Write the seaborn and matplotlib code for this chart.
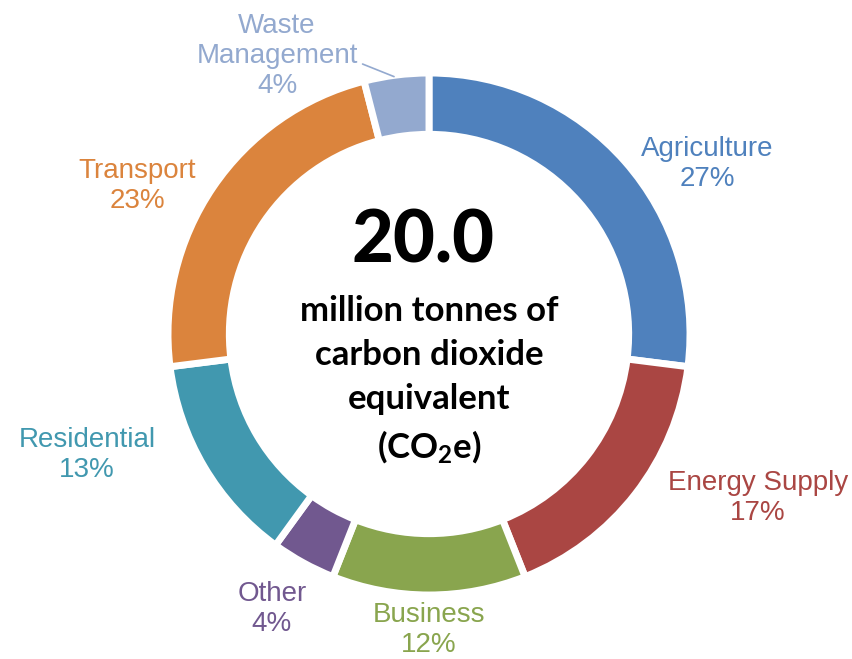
import numpy as np
import matplotlib.pyplot as plt
import seaborn as sns

sns.set_theme(style="white")
plt.rcParams["font.family"] = ["Liberation Sans", "DejaVu Sans"]
plt.rcParams["mathtext.default"] = "regular"

# Datos
sectors = ["Agriculture", "Energy Supply", "Business", "Other",
           "Residential", "Transport", "Waste Management"]
shares = [27, 17, 12, 4, 13, 23, 4]
colors = ["#4F81BD", "#AA4643", "#89A54E", "#71588F",
          "#4198AF", "#DB843D", "#93A9CF"]
label_text = ["Agriculture", "Energy Supply", "Business", "Other",
              "Residential", "Transport", "Waste\nManagement"]

# posiciones de etiquetas (pixeles de la figura)
label_px = [(707, 164), (758, 498), (429, 630), (272, 609),
            (87, 455), (137, 186), (277, 56)]

W, H = 853, 659
CX, CY, R = 429, 334, 261

fig = plt.figure(figsize=(W / 100, H / 100), dpi=100)
ax = fig.add_axes([0, 0, 1, 1])

wedges, _ = ax.pie(shares, colors=colors, startangle=90, counterclock=False,
                   radius=1.0, wedgeprops=dict(width=0.235, edgecolor="white", linewidth=5))

ax.set_xlim(-CX / R, (W - CX) / R)
ax.set_ylim(-(H - CY) / R, CY / R)
ax.set_aspect("equal")
ax.axis("off")

for i, (txt, (px, py)) in enumerate(zip(label_text, label_px)):
    x, y = px / W, 1 - py / H
    ax.text(x, y, f"{txt}\n{shares[i]}%", transform=fig.transFigure, ha="center", va="center",
            color=colors[i], fontsize=20, linespacing=1.22)

# linea guia de Waste Management
w = wedges[-1]
ang = np.deg2rad((w.theta1 + w.theta2) / 2)
ax.annotate("", xy=(np.cos(ang) * 0.99, np.sin(ang) * 0.99),
            xytext=((360 - CX) / R, (CY - 63) / R),
            arrowprops=dict(arrowstyle="-", color=colors[-1], lw=1.2))

# texto central
ax.text((423 - CX) / R, (CY - 242) / R, "20.0", ha="center", va="center", fontsize=52,
        fontweight="black", color="black", family=["Lato", "DejaVu Sans"])
ax.text(0, (CY - 380) / R, "million tonnes of\ncarbon dioxide\nequivalent\n(CO$_2$e)",
        ha="center", va="center", fontsize=25, fontweight="bold", color="black",
        family=["Lato", "DejaVu Sans"], linespacing=1.46)

fig.savefig("out.png", dpi=100)
